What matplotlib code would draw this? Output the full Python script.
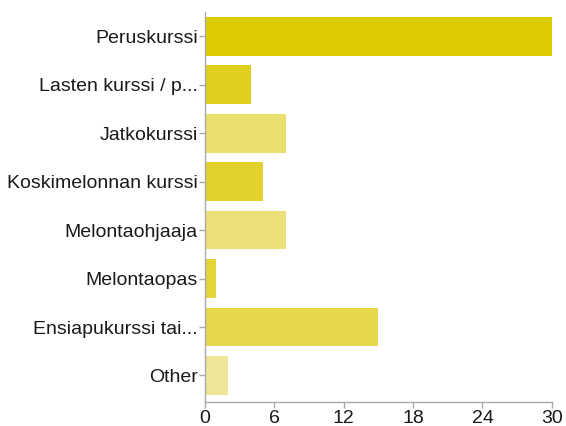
import matplotlib

matplotlib.use("Agg")
import matplotlib.pyplot as plt

categories = [
    "Peruskurssi",
    "Lasten kurssi / p...",
    "Jatkokurssi",
    "Koskimelonnan kurssi",
    "Melontaohjaaja",
    "Melontaopas",
    "Ensiapukurssi tai...",
    "Other",
]
counts = [30, 4, 7, 5, 7, 1, 15, 2]
bar_colors = ["#DDCC00", "#E0CF1C", "#EBDF6E", "#E3D22E",
              "#ECE07A", "#E4D43A", "#E6D74C", "#EFE596"]
xticks = [0, 6, 12, 18, 24, 30]

plt.rcParams["font.family"] = ["Liberation Sans", "DejaVu Sans"]

fig = plt.figure(figsize=(5.66, 4.26), dpi=100)
ax = fig.add_axes([0.362, 0.056, 0.613, 0.916])

ypos = list(range(len(categories)))
ax.barh(ypos, counts, height=0.8, color=bar_colors, edgecolor="none")

ax.set_xlim(0, 30)
ax.set_ylim(7.55, -0.5)
ax.set_xticks(xticks)
ax.set_yticks(ypos)
ax.set_yticklabels(categories)

for side in ("top", "right"):
    ax.spines[side].set_visible(False)
for side in ("left", "bottom"):
    ax.spines[side].set_color("#aaaaaa")
    ax.spines[side].set_linewidth(1.0)
ax.tick_params(axis="both", colors="#aaaaaa", labelcolor="#1a1a1a",
               labelsize=14, length=4, width=1.0)
ax.tick_params(axis="y", pad=1)
ax.tick_params(axis="x", pad=2)

fig.savefig("out.png", dpi=100)
